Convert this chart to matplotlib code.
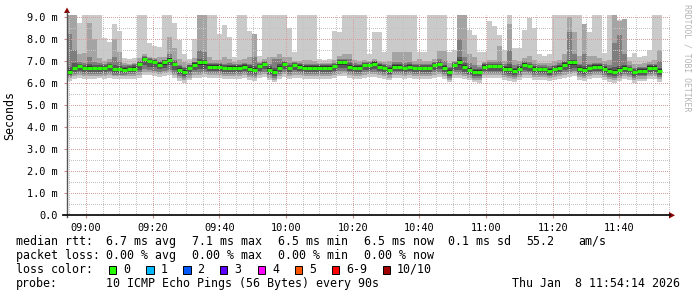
import numpy as np
import matplotlib
matplotlib.use("Agg")
import matplotlib.pyplot as plt
from matplotlib.patches import Polygon, Rectangle
from matplotlib.lines import Line2D

plt.rcParams["lines.scale_dashes"] = False

# ---------------- data (ms) ----------------
start_time = "08:54:18"          # first 90 s step
step_seconds = 90

median = [6.51, 6.67, 6.77, 6.67, 6.70, 6.67, 6.67, 6.67, 6.77, 6.62,
          6.62, 6.60, 6.64, 6.64, 6.85, 7.08, 7.00, 6.94, 6.83, 6.94,
          7.06, 6.85, 6.60, 6.51, 6.67, 6.83, 6.94, 6.94, 6.75, 6.75,
          6.75, 6.67, 6.70, 6.70, 6.70, 6.75, 6.64, 6.60, 6.77, 6.85,
          6.60, 6.48, 6.70, 6.85, 6.67, 6.83, 6.75, 6.70, 6.70, 6.70,
          6.70, 6.70, 6.70, 6.77, 6.94, 6.94, 6.75, 6.70, 6.70, 6.80,
          6.83, 6.88, 6.75, 6.67, 6.60, 6.75, 6.75, 6.67, 6.75, 6.67,
          6.67, 6.67, 6.67, 6.80, 6.86, 6.70, 6.50, 6.80, 6.94, 6.75,
          6.60, 6.50, 6.50, 6.75, 6.77, 6.77, 6.77, 6.64, 6.64, 6.55,
          6.64, 6.83, 6.77, 6.64, 6.64, 6.64, 6.56, 6.64, 6.70, 6.83,
          6.94, 6.94, 6.64, 6.60, 6.67, 6.75, 6.75, 6.64, 6.55, 6.50,
          6.60, 6.70, 6.64, 6.48, 6.56, 6.56, 6.70, 6.70, 6.55]

# sorted ping ranks: p10 (highest) ... p1 (lowest)
ping10 = [9.1, 9.1, 8.75, 9.1, 9.1, 9.1, 9.1, 8.05, 7.85, 8.7,
          8.35, 7.15, 7.1, 7.15, 9.1, 9.1, 7.8, 7.7, 7.65, 9.1,
          9.1, 8.75, 7.95, 7.3, 7.1, 8.0, 9.1, 9.1, 9.1, 9.1,
          8.25, 8.65, 8.1, 7.2, 9.1, 9.1, 8.35, 8.25, 7.25, 9.1,
          9.1, 9.1, 9.1, 9.1, 8.5, 7.4, 9.1, 9.1, 9.1, 9.1,
          7.1, 7.05, 7.1, 8.35, 8.3, 9.1, 9.1, 9.1, 9.1, 9.1,
          7.3, 8.3, 8.3, 7.4, 9.1, 9.1, 9.1, 9.1, 9.1, 9.1,
          7.4, 7.4, 9.1, 9.1, 9.1, 9.1, 7.4, 7.5, 9.1, 9.1,
          8.4, 8.2, 7.4, 7.4, 8.8, 8.6, 8.2, 7.5, 9.1, 7.6,
          7.6, 8.4, 8.95, 8.5, 7.3, 7.25, 7.3, 9.1, 9.1, 9.1,
          9.1, 9.1, 9.1, 8.3, 8.3, 9.1, 9.1, 7.35, 9.1, 8.7,
          8.85, 7.6, 7.2, 7.35, 7.2, 7.25, 7.5, 9.1, 9.1]
ping9 = [9.1, 9.1, 7.3, 7.35, 8.75, 8.0, 7.15, 7.0, 7.1, 8.0,
         7.4, 6.9, 6.88, 6.9, 7.15, 7.3, 7.2, 7.15, 7.2, 7.2,
         8.1, 7.6, 7.1, 6.95, 6.9, 7.15, 9.1, 9.1, 7.2, 7.05,
         7.05, 7.2, 7.1, 6.95, 7.05, 7.1, 7.2, 8.25, 6.95, 7.1,
         7.2, 7.2, 7.3, 7.2, 7.2, 7.0, 7.0, 7.05, 7.05, 7.0,
         6.9, 6.9, 6.9, 7.05, 7.25, 7.3, 7.3, 7.05, 7.0, 7.05,
         7.0, 7.1, 7.0, 6.95, 7.0, 7.4, 7.4, 7.4, 7.4, 7.0,
         7.1, 7.0, 7.0, 7.1, 7.45, 7.45, 6.9, 7.0, 9.1, 9.1,
         7.3, 7.2, 6.8, 6.95, 7.05, 7.05, 7.7, 7.0, 8.7, 7.05,
         7.0, 7.15, 7.25, 7.05, 6.9, 6.9, 6.9, 7.0, 7.05, 7.3,
         9.0, 8.3, 7.25, 8.7, 7.25, 7.25, 7.15, 7.0, 7.05, 9.1,
         8.8, 8.9, 7.0, 6.85, 6.85, 6.9, 6.95, 7.05, 7.5]
ping8 = [8.25, 7.5, 6.95, 6.92, 7.2, 6.95, 6.9, 6.88, 6.95, 7.2,
         6.95, 6.82, 6.84, 6.85, 7.0, 7.25, 7.15, 7.08, 7.0, 7.06,
         7.3, 7.05, 6.8, 6.72, 6.84, 6.95, 7.5, 7.4, 6.92, 6.9,
         6.92, 6.88, 6.9, 6.88, 6.88, 6.92, 6.88, 7.2, 6.92, 6.98,
         6.85, 7.1, 7.1, 6.98, 6.9, 6.95, 6.9, 6.88, 6.88, 6.88,
         6.86, 6.86, 6.86, 6.92, 7.08, 7.1, 7.1, 6.9, 6.88, 6.95,
         6.96, 7.02, 6.92, 6.86, 6.8, 6.95, 6.95, 6.9, 6.94, 6.88,
         6.88, 6.88, 6.88, 6.95, 7.1, 7.0, 6.75, 6.96, 8.0, 7.2,
         6.9, 6.8, 6.72, 6.9, 6.95, 6.95, 7.0, 6.85, 7.5, 6.8,
         6.85, 6.98, 6.95, 6.85, 6.82, 6.82, 6.78, 6.84, 6.9, 7.02,
         8.3, 7.3, 6.88, 7.3, 6.88, 6.92, 6.92, 6.86, 6.8, 7.8,
         8.2, 7.3, 6.84, 6.7, 6.75, 6.75, 6.85, 6.88, 7.0]
ping7 = [6.75, 6.9, 6.88, 6.82, 6.85, 6.8, 6.8, 6.8, 6.88, 6.8,
         6.78, 6.75, 6.78, 6.8, 6.95, 7.2, 7.1, 7.05, 6.95, 7.05,
         7.15, 7.0, 6.78, 6.7, 6.8, 6.95, 7.1, 7.05, 6.88, 6.85,
         6.85, 6.8, 6.82, 6.8, 6.8, 6.85, 6.8, 6.78, 6.88, 6.95,
         6.78, 6.7, 6.85, 6.95, 6.8, 6.92, 6.85, 6.82, 6.8, 6.82,
         6.8, 6.8, 6.8, 6.88, 7.05, 7.05, 6.9, 6.82, 6.82, 6.9,
         6.92, 6.98, 6.88, 6.8, 6.75, 6.88, 6.88, 6.8, 6.86, 6.8,
         6.8, 6.8, 6.8, 6.9, 6.98, 6.82, 6.68, 6.9, 7.2, 6.9,
         6.75, 6.65, 6.62, 6.85, 6.88, 6.88, 6.88, 6.78, 6.85, 6.7,
         6.78, 6.92, 6.88, 6.78, 6.75, 6.75, 6.7, 6.76, 6.82, 6.95,
         7.05, 7.05, 6.8, 6.78, 6.8, 6.86, 6.86, 6.78, 6.7, 6.75,
         6.78, 6.82, 6.75, 6.62, 6.68, 6.68, 6.8, 6.82, 6.7]
ping6 = [6.6, 6.75, 6.83, 6.74, 6.77, 6.73, 6.74, 6.74, 6.83, 6.7,
         6.69, 6.67, 6.7, 6.71, 6.9, 7.14, 7.06, 7.0, 6.9, 7.0,
         7.12, 6.92, 6.68, 6.6, 6.74, 6.9, 7.02, 7.0, 6.82, 6.8,
         6.81, 6.74, 6.77, 6.76, 6.76, 6.81, 6.72, 6.68, 6.83, 6.92,
         6.68, 6.58, 6.77, 6.92, 6.74, 6.88, 6.8, 6.76, 6.76, 6.77,
         6.76, 6.76, 6.77, 6.83, 7.0, 7.0, 6.82, 6.76, 6.76, 6.86,
         6.88, 6.94, 6.82, 6.74, 6.68, 6.82, 6.81, 6.74, 6.81, 6.74,
         6.74, 6.73, 6.74, 6.86, 6.92, 6.76, 6.58, 6.86, 7.05, 6.82,
         6.68, 6.58, 6.57, 6.81, 6.83, 6.83, 6.83, 6.71, 6.72, 6.62,
         6.71, 6.89, 6.83, 6.71, 6.7, 6.7, 6.63, 6.7, 6.76, 6.89,
         7.0, 7.0, 6.72, 6.67, 6.73, 6.81, 6.81, 6.71, 6.62, 6.6,
         6.68, 6.76, 6.7, 6.56, 6.62, 6.62, 6.76, 6.76, 6.62]
ping5 = [6.42, 6.58, 6.68, 6.6, 6.62, 6.6, 6.59, 6.58, 6.68, 6.54,
         6.54, 6.52, 6.56, 6.56, 6.76, 6.98, 6.9, 6.86, 6.74, 6.84,
         6.96, 6.76, 6.5, 6.42, 6.58, 6.74, 6.84, 6.84, 6.66, 6.66,
         6.66, 6.58, 6.62, 6.62, 6.61, 6.66, 6.56, 6.5, 6.68, 6.76,
         6.52, 6.4, 6.62, 6.76, 6.58, 6.74, 6.66, 6.62, 6.62, 6.62,
         6.62, 6.62, 6.62, 6.68, 6.84, 6.84, 6.66, 6.62, 6.62, 6.72,
         6.74, 6.78, 6.66, 6.58, 6.52, 6.66, 6.66, 6.58, 6.66, 6.58,
         6.58, 6.58, 6.58, 6.72, 6.76, 6.62, 6.42, 6.72, 6.84, 6.66,
         6.52, 6.4, 6.42, 6.66, 6.68, 6.68, 6.68, 6.56, 6.56, 6.46,
         6.56, 6.74, 6.68, 6.56, 6.56, 6.56, 6.48, 6.56, 6.62, 6.74,
         6.84, 6.84, 6.54, 6.52, 6.58, 6.66, 6.66, 6.56, 6.46, 6.42,
         6.52, 6.62, 6.56, 6.4, 6.48, 6.48, 6.62, 6.62, 6.46]
ping4 = [6.35, 6.5, 6.55, 6.5, 6.52, 6.5, 6.5, 6.48, 6.55, 6.45,
         6.45, 6.45, 6.48, 6.48, 6.6, 6.8, 6.75, 6.72, 6.62, 6.7,
         6.8, 6.6, 6.4, 6.3, 6.45, 6.6, 6.62, 6.65, 6.55, 6.55,
         6.55, 6.48, 6.52, 6.52, 6.5, 6.55, 6.45, 6.4, 6.55, 6.62,
         6.42, 6.32, 6.5, 6.62, 6.48, 6.6, 6.55, 6.5, 6.5, 6.5,
         6.5, 6.52, 6.5, 6.55, 6.7, 6.7, 6.55, 6.5, 6.5, 6.6,
         6.6, 6.62, 6.55, 6.48, 6.42, 6.55, 6.55, 6.48, 6.55, 6.48,
         6.48, 6.48, 6.48, 6.6, 6.62, 6.5, 6.32, 6.6, 6.6, 6.52,
         6.42, 6.3, 6.3, 6.55, 6.55, 6.55, 6.55, 6.45, 6.42, 6.35,
         6.45, 6.6, 6.55, 6.45, 6.45, 6.45, 6.38, 6.45, 6.5, 6.6,
         6.65, 6.7, 6.45, 6.4, 6.48, 6.55, 6.55, 6.45, 6.35, 6.3,
         6.4, 6.5, 6.45, 6.3, 6.38, 6.38, 6.5, 6.5, 6.35]
ping3 = [6.3, 6.42, 6.45, 6.42, 6.42, 6.42, 6.42, 6.4, 6.45, 6.38,
         6.38, 6.38, 6.4, 6.4, 6.48, 6.62, 6.6, 6.55, 6.5, 6.55,
         6.6, 6.45, 6.32, 6.22, 6.35, 6.48, 6.45, 6.5, 6.45, 6.45,
         6.45, 6.4, 6.42, 6.42, 6.4, 6.45, 6.38, 6.32, 6.45, 6.5,
         6.35, 6.25, 6.4, 6.5, 6.4, 6.48, 6.45, 6.42, 6.42, 6.42,
         6.42, 6.42, 6.42, 6.45, 6.55, 6.55, 6.45, 6.42, 6.42, 6.48,
         6.5, 6.5, 6.45, 6.4, 6.35, 6.45, 6.45, 6.4, 6.45, 6.4,
         6.4, 6.4, 6.4, 6.48, 6.5, 6.42, 6.25, 6.48, 6.45, 6.42,
         6.35, 6.25, 6.22, 6.45, 6.45, 6.45, 6.45, 6.38, 6.32, 6.28,
         6.38, 6.48, 6.45, 6.38, 6.38, 6.38, 6.32, 6.38, 6.42, 6.48,
         6.5, 6.55, 6.38, 6.32, 6.4, 6.45, 6.45, 6.38, 6.28, 6.22,
         6.32, 6.42, 6.38, 6.22, 6.3, 6.3, 6.42, 6.42, 6.28]
ping2 = [6.22, 6.32, 6.35, 6.32, 6.33, 6.32, 6.33, 6.3, 6.35, 6.3,
         6.3, 6.3, 6.32, 6.32, 6.38, 6.5, 6.48, 6.45, 6.4, 6.45,
         6.48, 6.35, 6.22, 6.12, 6.25, 6.38, 6.35, 6.4, 6.35, 6.35,
         6.35, 6.3, 6.33, 6.32, 6.3, 6.35, 6.28, 6.22, 6.35, 6.4,
         6.25, 6.15, 6.3, 6.4, 6.3, 6.38, 6.35, 6.32, 6.32, 6.32,
         6.32, 6.32, 6.32, 6.35, 6.42, 6.45, 6.35, 6.32, 6.32, 6.38,
         6.4, 6.4, 6.35, 6.3, 6.25, 6.35, 6.35, 6.3, 6.35, 6.3,
         6.3, 6.3, 6.3, 6.38, 6.4, 6.32, 6.15, 6.38, 6.35, 6.32,
         6.25, 6.15, 6.12, 6.35, 6.35, 6.35, 6.35, 6.28, 6.22, 6.18,
         6.28, 6.38, 6.35, 6.28, 6.28, 6.28, 6.22, 6.28, 6.32, 6.38,
         6.4, 6.45, 6.28, 6.22, 6.3, 6.35, 6.35, 6.28, 6.18, 6.12,
         6.22, 6.32, 6.28, 6.12, 6.2, 6.2, 6.32, 6.32, 6.18]
ping1 = [6.1, 6.2, 6.22, 6.2, 6.2, 6.2, 6.22, 6.18, 6.22, 6.18,
         6.18, 6.2, 6.2, 6.2, 6.25, 6.35, 6.35, 6.3, 6.28, 6.3,
         6.35, 6.22, 6.1, 6.0, 6.12, 6.25, 6.22, 6.28, 6.22, 6.22,
         6.22, 6.18, 6.2, 6.2, 6.18, 6.22, 6.15, 6.1, 6.22, 6.28,
         6.12, 6.05, 6.18, 6.28, 6.18, 6.25, 6.22, 6.2, 6.2, 6.2,
         6.2, 6.2, 6.2, 6.22, 6.3, 6.32, 6.22, 6.2, 6.2, 6.25,
         6.28, 6.28, 6.22, 6.18, 6.12, 6.22, 6.22, 6.18, 6.22, 6.18,
         6.18, 6.18, 6.18, 6.25, 6.28, 6.2, 6.05, 6.25, 6.22, 6.2,
         6.12, 6.05, 6.02, 6.22, 6.22, 6.22, 6.22, 6.15, 6.1, 6.05,
         6.15, 6.25, 6.22, 6.15, 6.15, 6.15, 6.1, 6.15, 6.2, 6.25,
         6.28, 6.32, 6.15, 6.1, 6.18, 6.22, 6.22, 6.15, 6.05, 6.0,
         6.1, 6.2, 6.15, 6.0, 6.08, 6.08, 6.2, 6.2, 6.05]

time_labels = ["09:00", "09:20", "09:40", "10:00", "10:20", "10:40", "11:00", "11:20", "11:40"]
y_ticks = [0.0, 1.0, 2.0, 3.0, 4.0, 5.0, 6.0, 7.0, 8.0, 9.0]
y_tick_labels = ["0.0", "1.0 m", "2.0 m", "3.0 m", "4.0 m", "5.0 m", "6.0 m", "7.0 m", "8.0 m", "9.0 m"]

loss_labels = ["0", "1", "2", "3", "4", "5", "6-9", "10/10"]
loss_colors = ["#26ff00", "#00b8ff", "#0059ff", "#5e00ff", "#ff00ff", "#ff5500", "#ff0000", "#a10000"]

rtt_title = "median rtt:"
rtt_items = ["6.7 ms avg", "7.1 ms max", "6.5 ms min", "6.5 ms now", "0.1 ms sd", "55.2", "am/s"]
loss_title = "packet loss:"
loss_items = ["0.00 % avg", "0.00 % max", "0.00 % min", "0.00 % now"]
probe_title = "probe:"
probe_text = "10 ICMP Echo Pings (56 Bytes) every 90s"
stamp = "Thu Jan  8 11:54:14 2026"
watermark = "RRDTOOL / TOBI OETIKER"

# ---------------- figure ----------------
W, H = 697, 297
MONO = "DejaVu Sans Mono"
fig = plt.figure(figsize=(W / 100, H / 100), dpi=100)
fig.patch.set_facecolor("white")

def fx(px):
    return px / W

def fy(py):
    return 1 - py / H

YMAX = 9.1
ax = fig.add_axes([fx(67), fy(215), (670 - 67) / W, YMAX * 22 / H])

def hm_to_min(s):
    parts = [int(p) for p in s.split(":")]
    secs = parts[0] * 3600 + parts[1] * 60 + (parts[2] if len(parts) > 2 else 0)
    return (secs - 9 * 3600) / 60.0

t0 = hm_to_min(start_time)
step_min = step_seconds / 60.0
n = len(median)
edges = t0 + step_min * np.arange(n + 1)

def ext(a):
    a = np.asarray(a, float)
    return np.append(a, a[-1])

bands = [(ping1, ping10, "#cacaca"), (ping2, ping9, "#a4a4a4"),
         (ping3, ping8, "#7e7e7e"), (ping4, ping7, "#585858"),
         (ping5, ping6, "#323232")]
for lo, hi, c in bands:
    ax.fill_between(edges, ext(lo), ext(hi), step="post", color=c,
                    linewidth=0, antialiased=False, zorder=1)

ax.hlines(median, edges[:-1], edges[1:], colors=loss_colors[0],
          linewidth=2.2, zorder=4, capstyle="butt")

ax.set_xlim(t0, t0 + (670 - 67) / (200 / 60.0))
ax.set_ylim(0, YMAX)

major_x = [hm_to_min(s) for s in time_labels]
minor_x = [m for m in np.arange(-5, 176, 5) if m not in major_x]
minor_y = list(np.arange(0.5, 9.1, 1.0))

PX = 0.72  # one pixel in points
grid_kw = dict(linewidth=PX, antialiased=True, zorder=2.5, snap=True,
               linestyle=(PX / 2, (PX, PX)), dash_capstyle="butt")
for m in minor_x:
    ax.axvline(m, color="#c4c4c4", **grid_kw)
for v in minor_y:
    ax.axhline(v, color="#c4c4c4", **grid_kw)
for m in major_x:
    ax.axvline(m, color="#d6a0a0", **grid_kw)
for v in y_ticks[1:]:
    ax.axhline(v, color="#d6a0a0", **grid_kw)

ax.set_xticks(major_x)
ax.set_xticklabels(time_labels, fontfamily=MONO, fontsize=7.4)
ax.set_yticks(y_ticks)
ax.set_yticklabels(y_tick_labels, fontfamily=MONO, fontsize=7.4)

ax.tick_params(axis="y", which="major", length=2, width=0.8, color="#d08c8c", pad=5)
ax.tick_params(axis="x", which="major", length=2, width=0.8, color="#d08c8c", pad=3.5)
for s in ax.spines.values():
    s.set_visible(False)
ax.set_facecolor("white")

# axes with arrows
arrow_col = "#8b0000"
fig.add_artist(Line2D([fx(67), fx(67)], [fy(217), fy(12)], transform=fig.transFigure,
                      color="#555555", linewidth=1.0))
fig.add_artist(Line2D([fx(63), fx(670)], [fy(215.3), fy(215.3)], transform=fig.transFigure,
                      color="#111111", linewidth=1.3))
fig.add_artist(Polygon([[fx(64), fy(13)], [fx(70), fy(13)], [fx(67), fy(7.5)]],
                       closed=True, transform=fig.transFigure, color=arrow_col, linewidth=0))
fig.add_artist(Polygon([[fx(669), fy(212)], [fx(669), fy(218.5)], [fx(675), fy(215.3)]],
                       closed=True, transform=fig.transFigure, color=arrow_col, linewidth=0))

fig.text(fx(10), fy(115), "Seconds", rotation=90, ha="center", va="center",
         fontfamily=MONO, fontsize=8.4)
fig.text(fx(687), fy(4), watermark, rotation=270, ha="center", va="top",
         fontfamily=MONO, fontsize=5.9, color="#b4b4b4")

# legend
LF = 8.4

def put(px, py, s, ha="left"):
    fig.text(fx(px), fy(py), s, ha=ha, va="center", fontfamily=MONO, fontsize=LF)

rtt_x = [106.5, 192.5, 278.5, 364.5, 448.5, 526.5, 578.5]
put(16, 241.5, rtt_title)
for px, s in zip(rtt_x, rtt_items):
    put(px, 241.5, s)
put(16, 255.5, loss_title)
for px, s in zip(rtt_x, loss_items):
    put(px, 255.5, s)
put(16, 269.5, "loss color:")
box_x = [108.5, 146, 183, 220, 257.5, 294.5, 331.5, 382.5]
for bx, lab, col in zip(box_x, loss_labels, loss_colors):
    fig.add_artist(Rectangle((fx(bx), fy(273.5)), 7.5 / W, 7.5 / H, transform=fig.transFigure,
                             facecolor=col, edgecolor="black", linewidth=0.7))
    put(bx + 14.5, 269.5, lab)
put(16, 283.5, probe_title)
put(106.5, 283.5, probe_text)
put(512, 283.5, stamp)

fig.savefig("out.png", dpi=100, facecolor="white")
